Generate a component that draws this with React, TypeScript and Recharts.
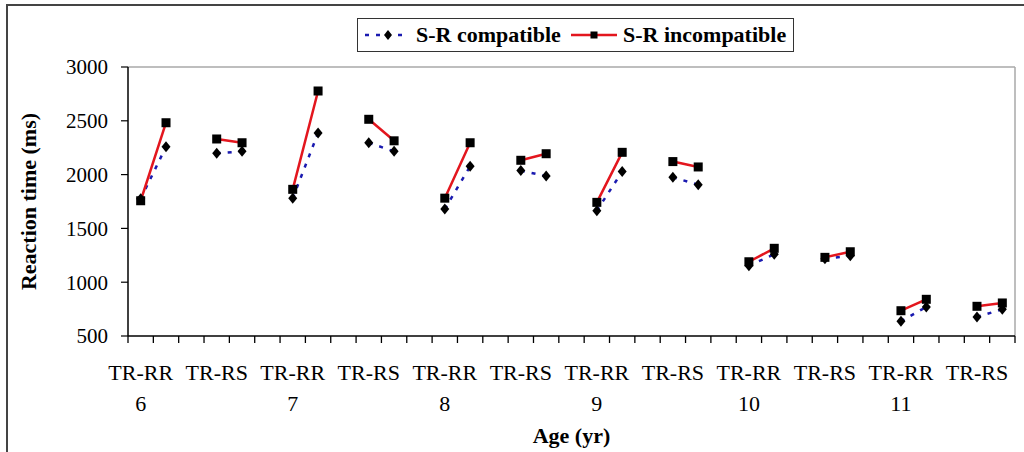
import React from "react";
import {
  LineChart,
  Line,
  XAxis,
  YAxis,
  ReferenceLine,
  Legend,
} from "recharts";

// ---- data ----
const groupLabels = [
  "TR-RR", "TR-RS", "TR-RR", "TR-RS", "TR-RR", "TR-RS",
  "TR-RR", "TR-RS", "TR-RR", "TR-RS", "TR-RR", "TR-RS",
];
const ages = ["6", "7", "8", "9", "10", "11"];
// two points per group (first, second)
const compatible = [
  1775, 2259, 2198, 2216, 1780, 2387, 2296, 2216, 1680, 2077, 2037, 1987,
  1665, 2028, 1975, 1906, 1153, 1259, 1218, 1246, 637, 770, 677, 748,
];
const incompatible = [
  1757, 2482, 2331, 2296, 1863, 2777, 2514, 2314, 1781, 2296, 2133, 2194,
  1742, 2207, 2121, 2071, 1190, 1315, 1231, 1283, 735, 841, 776, 807,
];
const yTicks = [500, 1000, 1500, 2000, 2500, 3000];
const seriesNames = { compatible: "S-R compatible", incompatible: "S-R incompatible" };

// ---- derived table ----
const slotCount = groupLabels.length * 3 - 1;
const data: any[] = [];
groupLabels.forEach((_, g) => {
  for (let p = 0; p < 2; p++) {
    data.push({
      x: 3 * g + 0.5 + p,
      compatible: compatible[2 * g + p],
      incompatible: incompatible[2 * g + p],
    });
  }
  if (g < groupLabels.length - 1) {
    data.push({ x: 3 * g + 2.5, compatible: null, incompatible: null });
  }
});
const boundaryTicks = Array.from({ length: slotCount + 1 }, (_, i) => i);
const labelTicks = groupLabels.map((_, g) => 3 * g + 0.5);
const yMin = 500;
const yMax = 3000;
const tickDepth = 65; // tick mark length below the axis, in data units

const FONT = "'Liberation Serif', 'Times New Roman', serif";
const BLUE = "#1a1ab0";
const RED = "#e3161e";

const DiamondDot = (props: any) => {
  const { cx, cy, value, index } = props;
  if (value == null || cx == null || cy == null) return <g key={`d${index}`} />;
  return (
    <path
      key={`d${index}`}
      d={`M${cx},${cy - 5.5}L${cx + 4.5},${cy}L${cx},${cy + 5.5}L${cx - 4.5},${cy}Z`}
      fill="#000"
    />
  );
};

const SquareDot = (props: any) => {
  const { cx, cy, value, index } = props;
  if (value == null || cx == null || cy == null) return <g key={`s${index}`} />;
  return <rect key={`s${index}`} x={cx - 4.5} y={cy - 4.5} width={9} height={9} fill="#000" />;
};

const GroupTick = (props: any) => {
  const { x, y, payload } = props;
  const g = Math.round((Number(payload.value) - 0.5) / 3);
  return (
    <g>
      <text x={x} y={y + 44} textAnchor="middle" fontFamily={FONT} fontSize={22} fill="#000">
        {groupLabels[g]}
      </text>
      {g % 2 === 0 && (
        <text x={x} y={y + 75} textAnchor="middle" fontFamily={FONT} fontSize={22} fill="#000">
          {ages[g / 2]}
        </text>
      )}
    </g>
  );
};

const renderLegend = (props: any) => {
  const payload = props.payload || [];
  const items = payload.map((p: any) => p.dataKey);
  return (
    <div
      style={{
        position: "relative",
        width: 437,
        height: 34,
        boxSizing: "border-box",
        border: "1.5px solid #333",
        background: "#fff",
        fontFamily: FONT,
        fontWeight: "bold",
        fontSize: 22,
        color: "#000",
      }}
    >
      {items.map((key: string) => {
        const isComp = key === "compatible";
        const left = isComp ? 6 : 213;
        return (
          <div
            key={key}
            style={{
              position: "absolute",
              left,
              top: 0,
              height: 31,
              display: "flex",
              alignItems: "center",
              whiteSpace: "nowrap",
            }}
          >
            <svg width={46} height={16} style={{ marginRight: 6 }}>
              {isComp ? (
                <>
                  <line x1={1} y1={8} x2={45} y2={8} stroke={BLUE} strokeWidth={2.5} strokeDasharray="4 7" />
                  <path d="M24,3L28,8L24,13L20,8Z" fill="#000" />
                </>
              ) : (
                <>
                  <line x1={0} y1={8} x2={46} y2={8} stroke={RED} strokeWidth={2.5} />
                  <rect x={19.5} y={4.5} width={7} height={7} fill="#000" />
                </>
              )}
            </svg>
            <span>{(seriesNames as any)[key]}</span>
          </div>
        );
      })}
    </div>
  );
};

export default function App() {
  return (
    <div
      style={{
        position: "absolute",
        left: 0,
        top: 0,
        width: 1024,
        height: 452,
        overflow: "hidden",
        background: "#fff",
      }}
    >
      <div
        style={{
          position: "absolute",
          left: 6,
          top: 4,
          width: 1100,
          height: 600,
          borderLeft: "2px solid #444",
          borderTop: "2px solid #444",
        }}
      />
      <div style={{ position: "absolute", left: 0, top: 0 }}>
        <LineChart
          width={1024}
          height={452}
          data={data}
          margin={{ top: 67, right: 9, bottom: 16, left: 0 }}
        >
          <XAxis
            type="number"
            dataKey="x"
            domain={[0, slotCount]}
            ticks={labelTicks}
            interval={0}
            tick={GroupTick}
            tickSize={0}
            tickMargin={0}
            tickLine={false}
            height={100}
            axisLine={{ stroke: "#000", strokeWidth: 1.5 }}
            allowDataOverflow
            label={{
              content: (p: any) => {
                const vb = p.viewBox || {};
                return (
                  <text
                    x={vb.x + vb.width / 2}
                    y={vb.y + 107}
                    textAnchor="middle"
                    fontFamily={FONT}
                    fontWeight="bold"
                    fontSize={22}
                    fill="#000"
                  >
                    Age (yr)
                  </text>
                );
              },
            }}
          />
          <YAxis
            type="number"
            domain={[yMin, yMax]}
            ticks={yTicks}
            interval={0}
            width={128}
            tickSize={7}
            tickMargin={13}
            tick={{ fontSize: 21, fontFamily: FONT, fill: "#000" }}
            axisLine={{ stroke: "#000", strokeWidth: 1.5 }}
            tickLine={{ stroke: "#000", strokeWidth: 1.2 }}
            allowDataOverflow
            label={{
              content: (p: any) => {
                const vb = p.viewBox || {};
                const cx = 28;
                const cy = vb.y + vb.height / 2;
                return (
                  <text
                    x={cx}
                    y={cy}
                    transform={`rotate(-90, ${cx}, ${cy})`}
                    textAnchor="middle"
                    dominantBaseline="central"
                    fontFamily={FONT}
                    fontWeight="bold"
                    fontSize={22}
                    fill="#000"
                  >
                    Reaction time (ms)
                  </text>
                );
              },
            }}
          />
          <ReferenceLine y={yMax} stroke="#a8a8a8" strokeWidth={1.5} />
          <ReferenceLine x={slotCount} stroke="#a8a8a8" strokeWidth={1.5} />
          {boundaryTicks.map((t) => (
            <ReferenceLine
              key={`bt${t}`}
              segment={[
                { x: t, y: yMin },
                { x: t, y: yMin - tickDepth },
              ]}
              stroke="#000"
              strokeWidth={1.3}
              ifOverflow="visible"
            />
          ))}
          <Legend
            layout="vertical"
            verticalAlign="middle"
            align="center"
            content={renderLegend}
            wrapperStyle={{ position: "absolute", left: 357, top: 18, width: 437, height: 34, margin: 0 }}
          />
          <Line
            type="linear"
            dataKey="compatible"
            name={seriesNames.compatible}
            stroke={BLUE}
            strokeWidth={2.5}
            strokeDasharray="4 7"
            dot={DiamondDot}
            activeDot={false}
            connectNulls={false}
            isAnimationActive={false}
          />
          <Line
            type="linear"
            dataKey="incompatible"
            name={seriesNames.incompatible}
            stroke={RED}
            strokeWidth={2.5}
            dot={SquareDot}
            activeDot={false}
            connectNulls={false}
            isAnimationActive={false}
          />
        </LineChart>
      </div>
    </div>
  );
}
